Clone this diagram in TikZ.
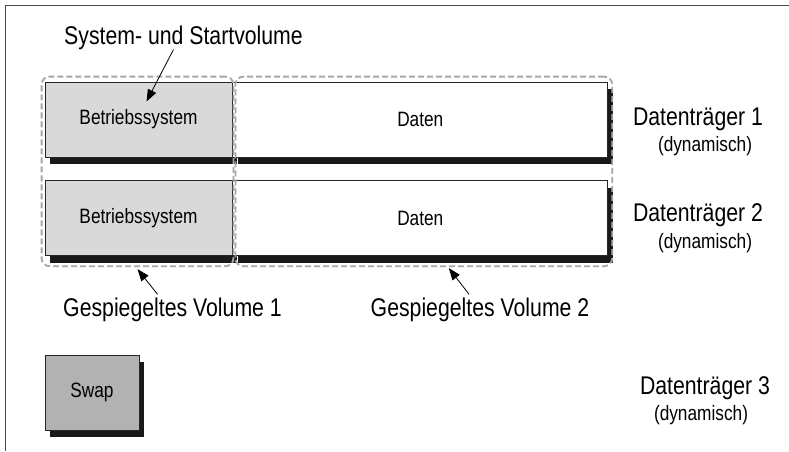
\documentclass[tikz,border=0pt]{standalone}
\usepackage{fontspec}
\setmainfont{Liberation Sans}[FakeStretch=0.83]
\usetikzlibrary{positioning,calc,fit,shadows,arrows.meta}

\begin{document}
\begin{tikzpicture}[x=1pt,y=-1pt,
  disk/.style={draw=black!85, line width=0.8pt, minimum height=75pt, inner sep=0pt,
    font=\fontsize{20.8}{22}\selectfont,
    general shadow={fill=black!90, shadow xshift=5pt, shadow yshift=-7pt}},
  os/.style={disk, fill=black!15, minimum width=187pt},
  data/.style={disk, fill=white, minimum width=375pt},
  swapbox/.style={disk, fill=black!30, minimum width=94pt},
  vol/.style={draw=black!35, line width=1.8pt, dash pattern=on 6pt off 3pt,
    rounded corners=8pt, inner sep=0pt},
  bigtext/.style={font=\fontsize{25.6}{28}\selectfont, inner sep=0pt, anchor=base},
  smalltext/.style={font=\fontsize{20.8}{22}\selectfont, inner sep=0pt, anchor=base},
  pointer/.style={-{Triangle[length=12pt,width=9pt]}, line width=0.8pt}]
  \useasboundingbox (0,0) rectangle (789,451);
  \draw[black!70, line width=1.5pt] (5.5,451) |- (789,5.5);

  \node[os] (bs1) at (138.5,119.5) {Betriebssystem};
  \node[data, right=0pt of bs1] (da1) {Daten};
  \node[os, below=23pt of bs1] (bs2) {Betriebssystem};
  \node[data, right=0pt of bs2] (da2) {Daten};
  \node[swapbox] (swap) at (92,392.5) {Swap};

  \node[vol, fit={([shift={(-3,-5)}]bs1.north west) ([shift={(1,10)}]bs2.south east)}] (vol1) {};
  \node[vol, fit={([shift={(3,-5)}]da1.north west) ([shift={(4,10)}]da2.south east)}] (vol2) {};

  \node[bigtext] (sys) at (183.5,44) {System- und Startvolume};
  \node[bigtext] (gv1) at (172.5,316) {Gespiegeltes Volume 1};
  \node[bigtext] (gv2) at (480,316) {Gespiegeltes Volume 2};

  \node[bigtext] (dt1) at (698,125) {Datenträger 1};
  \node[smalltext] (dy1) at (705,151) {(dynamisch)};
  \node[bigtext] (dt2) at (698,221) {Datenträger 2};
  \node[smalltext] (dy2) at (705,248) {(dynamisch)};
  \node[bigtext] (dt3) at (705,394) {Datenträger 3};
  \node[smalltext] (dy3) at (701,420) {(dynamisch)};

  \draw[pointer] ([xshift=-10pt]sys.south) -- ([shift={(8,-18)}]bs1.center);
  \draw[pointer] ([xshift=-15pt,yshift=3pt]gv1.north) -- ([yshift=-2pt]vol1.south);
  \draw[pointer] ([xshift=-11pt,yshift=3pt]gv2.north) -- ([xshift=25pt,yshift=-1pt]vol2.south);
\end{tikzpicture}
\end{document}
